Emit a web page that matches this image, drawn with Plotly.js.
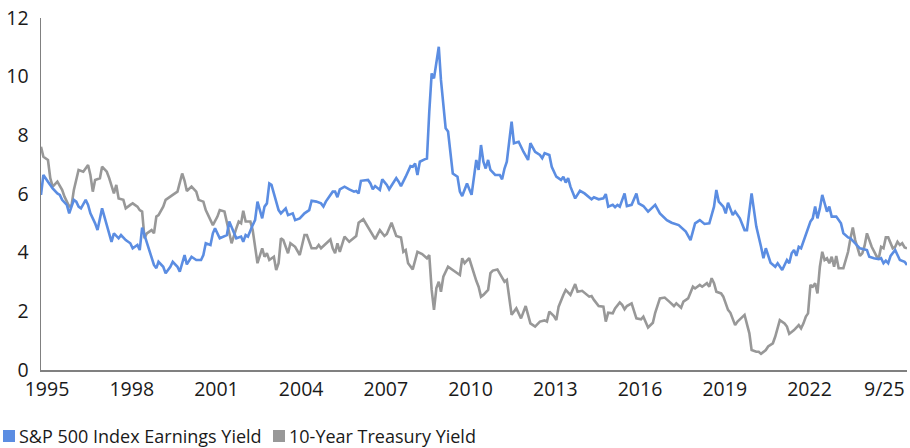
<!DOCTYPE html>
<html>
<head>
<meta charset="utf-8">
<script src="https://cdn.plot.ly/plotly-3.0.1.min.js"></script>
<style>html,body{margin:0;padding:0;background:#fff;}#chart{width:910px;height:448px;}</style>
</head>
<body>
<div id="chart"></div>
<script>
// Months counted from January 1995 (0 = Jan 1995, 368 = Sep 2025)
const earningsMonths = [0,1,3,5,7,8,9,11,12,14,15,16,17,19,20,21,23,24,26,28,30,31,33,34,36,38,39,41,42,43,44,46,48,49,50,52,53,55,56,58,59,61,62,64,66,68,69,70,72,73,74,76,78,79,80,81,83,85,86,87,88,90,91,92,93,94,95,96,97,98,100,101,102,104,105,107,108,110,112,114,115,117,119,120,121,124,125,126,127,129,131,133,134,135,136,139,140,141,142,144,145,147,148,151,152,153,155,157,158,159,160,161,163,164,165,166,167,168,169,170,172,173,174,175,177,178,179,181,183,185,186,187,188,189,190,191,193,195,196,197,198,199,200,201,203,205,207,208,210,212,213,214,216,217,219,221,222,223,224,225,227,229,231,234,235,237,239,240,241,243,244,245,246,248,249,251,253,254,256,258,261,263,266,268,271,274,275,276,278,280,282,284,286,287,288,290,291,292,294,295,297,299,300,302,304,305,306,307,308,310,312,313,315,317,318,319,320,321,322,323,325,326,327,328,329,330,331,332,334,335,336,338,340,341,343,344,346,347,348,351,352,354,356,357,358,359,360,361,363,364,365,367,368];
const earningsYield = [5.97,6.65,6.42,6.19,6.02,5.97,5.8,5.63,5.34,5.8,5.74,5.57,5.51,5.8,5.63,5.34,5.0,4.77,5.51,4.89,4.37,4.66,4.49,4.6,4.43,4.32,4.15,4.26,4.09,4.85,4.6,4.03,3.58,3.47,3.69,3.52,3.3,3.52,3.69,3.52,3.35,3.92,3.6,3.86,3.75,3.75,3.92,4.32,4.26,4.66,4.83,4.49,4.55,4.6,5.06,4.89,4.49,4.55,4.37,4.6,4.55,4.94,5.11,5.74,5.45,5.17,5.57,5.68,6.36,6.31,5.74,5.45,5.34,5.51,5.28,5.34,5.11,5.17,5.34,5.45,5.77,5.74,5.68,5.57,5.74,6.08,6.08,5.89,6.16,6.25,6.16,6.08,6.1,6.02,6.45,6.48,6.36,6.16,6.27,6.14,6.5,6.31,6.16,6.54,6.42,6.27,6.59,6.95,6.93,7.04,6.65,7.1,7.18,7.21,8.8,10.11,9.94,10.57,11.02,9.89,8.24,8.13,7.5,6.7,6.59,6.08,5.93,6.36,5.97,7.16,6.82,7.67,7.1,6.87,7.16,6.82,6.65,6.65,6.5,6.87,7.1,7.73,8.47,7.73,7.78,7.44,7.16,7.73,7.44,7.33,7.22,7.39,7.33,6.93,6.59,6.48,6.59,6.39,6.54,6.25,5.85,6.11,6.02,5.82,5.89,5.82,5.85,6.0,5.57,5.63,5.55,5.63,5.57,6.02,5.59,5.63,6.02,5.68,5.59,5.4,5.63,5.34,5.11,5.02,4.94,4.72,4.6,4.43,5.0,5.11,4.98,5.0,5.57,6.14,5.74,5.57,5.34,5.7,5.28,5.4,5.17,4.77,4.77,6.02,4.89,4.57,4.2,3.81,4.15,3.66,3.52,3.64,3.41,3.75,3.64,3.98,4.09,3.89,4.2,4.15,4.6,4.79,5.06,5.17,5.57,5.17,5.51,5.97,5.4,5.57,5.23,5.23,5.0,4.66,4.52,4.49,4.32,4.26,4.15,4.09,3.86,3.81,3.78,3.81,3.64,3.73,3.64,3.89,4.09,3.92,3.75,3.69,3.58];

const treasuryMonths = [0,1,3,4,5,7,9,10,12,13,14,15,16,18,20,21,22,23,25,26,28,29,31,32,33,35,36,38,39,41,42,43,44,45,47,48,49,50,52,53,55,56,58,59,60,61,62,64,66,67,69,70,72,73,75,76,78,79,80,81,83,84,85,86,87,89,90,92,94,95,96,97,99,100,101,102,103,105,106,108,110,112,113,115,117,118,119,121,123,124,125,126,127,129,131,134,135,137,140,142,144,146,147,149,151,153,154,155,156,158,160,162,164,165,166,167,168,169,170,171,173,175,177,178,179,180,182,183,185,186,187,188,190,191,192,194,196,197,198,199,200,202,204,206,208,210,212,214,215,216,218,219,220,222,223,225,227,228,230,233,234,235,237,239,240,241,243,244,246,247,248,249,251,253,255,256,258,260,261,263,265,267,269,270,272,273,275,277,278,280,281,283,284,285,286,287,289,290,292,293,295,296,298,299,301,302,304,305,306,308,309,311,312,314,316,317,318,320,322,323,324,325,326,327,328,329,330,331,332,333,334,335,336,337,338,339,341,342,343,344,345,346,348,349,350,351,352,353,355,356,357,358,359,360,362,363,364,365,366,367,368];
const treasuryYield = [7.61,7.27,7.16,6.54,6.25,6.42,6.14,5.91,5.57,5.63,6.14,6.54,6.82,6.76,6.99,6.65,6.08,6.48,6.54,6.93,6.76,6.54,6.02,6.31,5.85,5.8,5.51,5.63,5.68,5.57,5.45,5.4,4.49,4.66,4.77,4.66,5.23,5.28,5.57,5.8,5.93,5.97,6.08,6.36,6.7,6.45,6.1,6.25,6.08,5.8,5.74,5.45,5.11,4.94,5.23,5.45,5.4,5.0,4.72,4.32,4.83,5.06,5.0,5.43,5.06,5.06,4.77,3.64,4.15,3.86,3.98,3.75,3.86,3.41,3.64,4.49,4.43,3.98,4.32,4.2,3.92,4.6,4.6,4.15,4.15,4.26,4.15,4.32,4.45,4.15,3.98,4.32,4.03,4.55,4.37,4.57,5.02,5.14,4.72,4.46,4.77,4.57,4.64,5.02,4.57,4.52,4.03,4.09,3.64,3.43,4.03,3.95,3.81,3.92,2.73,2.05,2.79,3.01,2.67,3.18,3.52,3.41,3.32,3.24,3.81,3.64,3.81,3.52,3.04,2.84,2.5,2.56,2.73,3.3,3.39,3.43,3.18,3.01,3.07,2.39,1.88,2.1,1.76,2.18,1.59,1.48,1.65,1.69,1.65,1.99,1.84,1.7,2.16,2.56,2.73,2.56,2.93,2.67,2.7,2.5,2.52,2.39,2.18,2.16,1.65,1.95,1.93,2.1,2.3,2.22,2.07,2.18,2.27,1.76,1.73,1.82,1.45,1.61,1.95,2.44,2.47,2.33,2.18,2.27,2.12,2.33,2.44,2.84,2.78,2.9,2.84,2.96,2.84,3.13,2.96,2.67,2.61,2.5,2.05,1.95,1.53,1.65,1.82,1.88,1.25,0.68,0.62,0.62,0.55,0.68,0.8,0.91,1.14,1.7,1.59,1.48,1.23,1.36,1.53,1.42,1.59,1.82,1.93,2.9,2.84,2.96,2.61,3.52,4.03,3.75,3.81,3.64,3.86,3.52,3.89,3.47,3.47,3.75,4.03,4.49,4.86,4.43,3.89,3.98,4.23,4.66,4.43,4.2,3.89,3.81,4.2,4.15,4.52,4.52,4.15,4.2,4.37,4.26,4.32,4.18,4.15];

const tickYears = ['1995','1998','2001','2004','2007','2010','2013','2016','2019','2022'];
const lastLabel = '9/25';
const seriesNames = ['S&P 500 Index Earnings Yield', '10-Year Treasury Yield'];
const seriesColors = ['#5b8de2', '#989898'];

function monthToDate(m) {
  const y = 1995 + Math.floor(m / 12);
  const mo = (m % 12) + 1;
  return y + '-' + String(mo).padStart(2, '0') + '-01';
}
const eyDates = earningsMonths.map(monthToDate);
const tyDates = treasuryMonths.map(monthToDate);
const endDate = monthToDate(368);

const FONT = '"Open Sans", "Noto Sans", sans-serif';
const TXT = '#1a1a1a';

// plot-area geometry (pixels) used to place the legend keys
const W = 910, H = 448, L = 41, R = 3, T = 18, B = 78;
const pw = W - L - R, ph = H - T - B;
const px = p => (p - L) / pw;            // pixel x -> paper x
const py = p => (H - B - p) / ph;        // pixel y -> paper y

const traces = [
  {x: tyDates, y: treasuryYield, type: 'scatter', mode: 'lines', line: {color: seriesColors[1], width: 2.6}, name: seriesNames[1]},
  {x: eyDates, y: earningsYield, type: 'scatter', mode: 'lines', line: {color: seriesColors[0], width: 2.6}, name: seriesNames[0]}
];

const legendKeys = [
  {left: 3, textLeft: 18},
  {left: 273, textLeft: 288}
];
const keyTop = 430, keySize = 12, legendMid = 436;

const shapes = legendKeys.map((k, i) => ({
  type: 'rect', xref: 'paper', yref: 'paper',
  x0: px(k.left), x1: px(k.left + keySize), y0: py(keyTop + keySize), y1: py(keyTop),
  fillcolor: seriesColors[i], line: {width: 0}
}));

const annotations = legendKeys.map((k, i) => ({
  xref: 'paper', yref: 'paper', x: px(k.textLeft), y: py(legendMid),
  xanchor: 'left', yanchor: 'middle', showarrow: false, text: seriesNames[i],
  borderpad: 0,
  font: {family: FONT, size: 18, color: TXT}
}));
annotations.push({x: endDate, xref: 'x', xanchor: 'right', y: 0, yref: 'paper', yanchor: 'top', yshift: -3, text: lastLabel, showarrow: false, font: {family: FONT, size: 19.5, color: TXT}});

const layout = {
  width: W, height: H,
  margin: {l: L, r: R, t: T, b: B},
  paper_bgcolor: '#ffffff', plot_bgcolor: '#ffffff',
  font: {family: FONT, size: 19.5, color: TXT},
  showlegend: false,
  xaxis: {
    type: 'date',
    range: ['1995-01-01', endDate],
    tickmode: 'array',
    tickvals: tickYears.map(y => y + '-01-01'),
    ticktext: tickYears,
    ticks: '',
    ticklabelshift: 6,
    ticklabelstandoff: 1,
    automargin: false,
    showgrid: false, zeroline: false,
    showline: true, linecolor: '#808080', linewidth: 2,
    tickfont: {family: FONT, size: 19.5, color: TXT},
    fixedrange: true
  },
  yaxis: {
    range: [0, 12],
    dtick: 2,
    tick0: 0,
    ticks: '',
    ticklabelstandoff: 7,
    automargin: false,
    showgrid: false, zeroline: false,
    showline: true, linecolor: '#808080', linewidth: 1.5,
    tickfont: {family: FONT, size: 19.5, color: TXT},
    fixedrange: true
  },
  shapes: shapes,
  annotations: annotations
};

Plotly.newPlot('chart', traces, layout, {staticPlot: true, displayModeBar: false});
</script>
</body>
</html>
